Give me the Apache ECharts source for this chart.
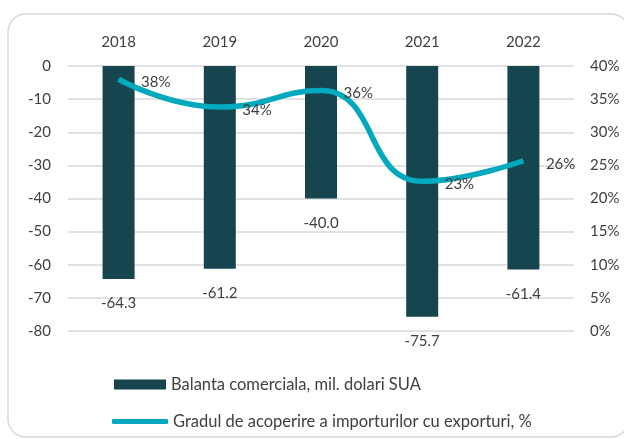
<!DOCTYPE html>
<html>
<head>
<meta charset="utf-8">
<script src="https://cdn.jsdelivr.net/npm/echarts@6/dist/echarts.min.js"></script>
<style>
  html, body { margin: 0; padding: 0; background: #fff; }
  #chart { width: 624px; height: 439px; }
</style>
</head>
<body>
<div id="chart"></div>
<script>
  const years = ["2018", "2019", "2020", "2021", "2022"];
  const balance = [-64.3, -61.2, -40.0, -75.7, -61.4];
  const coverage = [0.38, 0.338, 0.363, 0.226, 0.257];

  const barName = "Balanta comerciala, mil. dolari SUA";
  const lineName = "Gradul de acoperire a importurilor cu exporturi, %";

  const font = "Lato, 'Liberation Sans', sans-serif";
  const textColor = "#404040";

  const chart = echarts.init(document.getElementById("chart"));

  chart.setOption({
    animation: false,
    textStyle: { fontFamily: font },
    graphic: [
      {
        type: "rect",
        shape: { x: 8, y: 14, width: 621, height: 423, r: 18 },
        style: { fill: "none", stroke: "#d9d9d9", lineWidth: 1.5 },
        silent: true,
      },
    ],
    grid: { left: 68, right: 50, top: 66, bottom: 108 },
    legend: [
      {
        data: [barName],
        orient: "vertical",
        left: 109,
        top: 371,
        itemWidth: 52,
        itemHeight: 10,
        icon: "rect",
        textStyle: { fontFamily: font, fontSize: 16.5, color: textColor },
      },
      {
        data: [lineName],
        orient: "vertical",
        left: 107,
        top: 408,
        itemWidth: 56,
        itemHeight: 5,
        icon: "roundRect",
        textStyle: { fontFamily: font, fontSize: 16.5, color: textColor },
      },
    ],
    xAxis: {
      type: "category",
      data: years,
      position: "top",
      axisLine: { show: false },
      axisTick: { show: false },
      axisLabel: { fontSize: 15, color: textColor, margin: 16, fontFamily: font },
    },
    yAxis: [
      {
        type: "value",
        min: -80,
        max: 0,
        interval: 10,
        axisLine: { show: false },
        axisTick: { show: false },
        splitLine: { lineStyle: { color: "#d9d9d9", width: 1.5 } },
        axisLabel: { fontSize: 15, color: textColor, margin: 17, fontFamily: font },
      },
      {
        type: "value",
        min: 0,
        max: 0.4,
        interval: 0.05,
        axisLine: { show: false },
        axisTick: { show: false },
        splitLine: { show: false },
        axisLabel: {
          fontSize: 15,
          color: textColor,
          margin: 16,
          fontFamily: font,
          formatter: (v) => Math.round(v * 100) + "%",
        },
      },
    ],
    series: [
      {
        name: barName,
        type: "bar",
        data: balance,
        barWidth: 32,
        itemStyle: { color: "#16454f" },
        label: {
          show: true,
          position: "outside",
          distance: 17,
          fontSize: 15,
          color: textColor,
          fontFamily: font,
          formatter: (p) => p.value.toFixed(1),
        },
      },
      {
        name: lineName,
        type: "line",
        yAxisIndex: 1,
        data: coverage,
        smooth: 0.5,
        symbol: "circle",
        symbolSize: 1,
        itemStyle: { color: "#00a9bd" },
        lineStyle: { color: "#00a9bd", width: 5.5 },
        label: {
          show: true,
          position: "right",
          distance: 22,
          offset: [0, 3],
          fontSize: 15,
          color: textColor,
          fontFamily: font,
          formatter: (p) => Math.round(p.value * 100) + "%",
        },
        z: 5,
      },
    ],
  });
</script>
</body>
</html>
